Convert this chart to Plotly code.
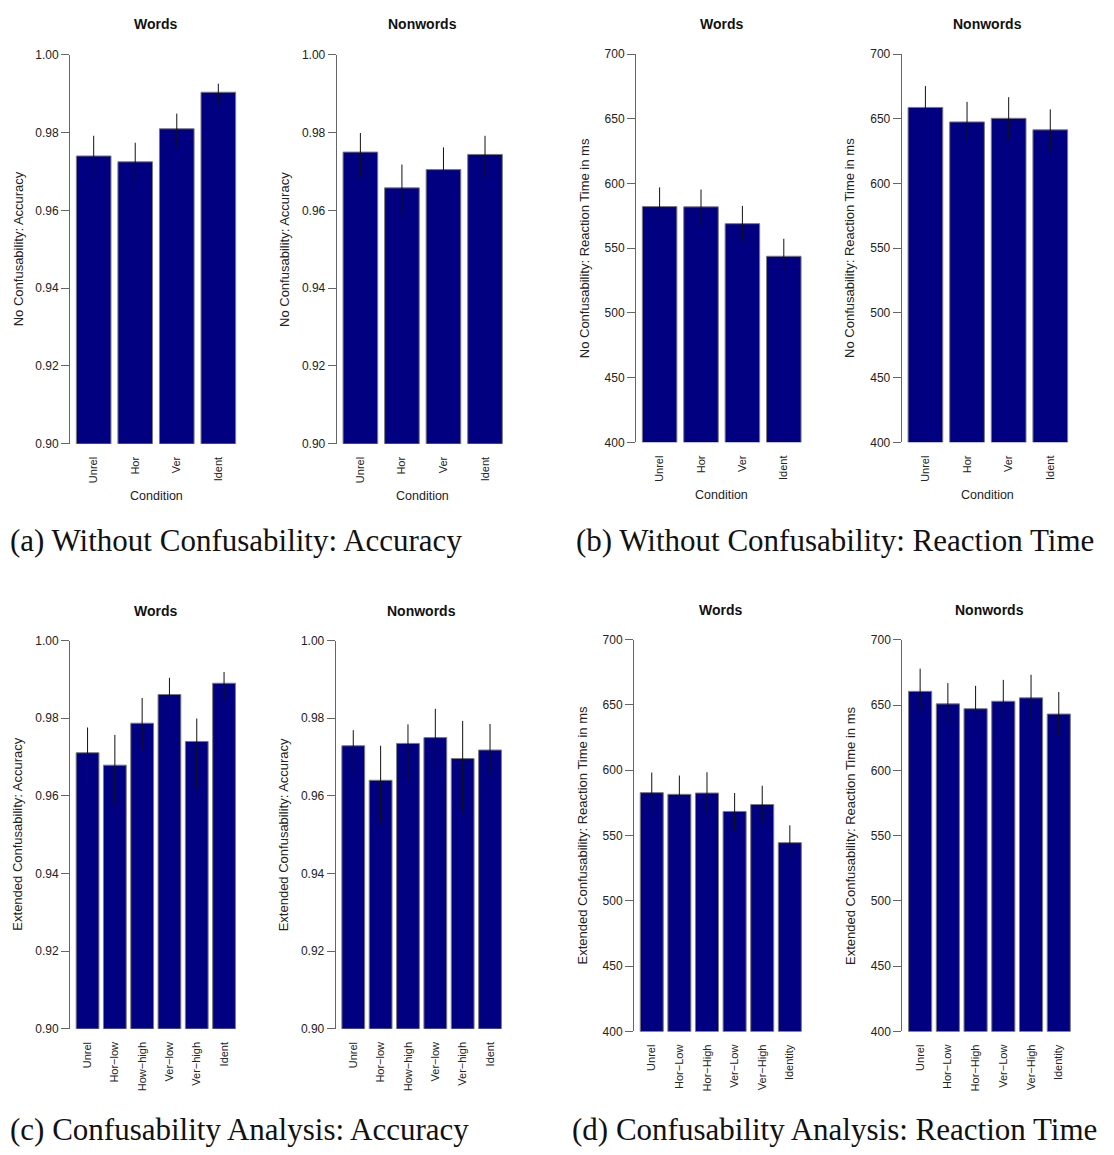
import plotly.graph_objects as go

# ---------------- data ----------------
cond4 = ["Unrel", "Hor", "Ver", "Ident"]
cond6_acc = ["Unrel", "Hor−low", "How−high", "Ver−low", "Ver−high", "Ident"]
cond6_rt = ["Unrel", "Hor−Low", "Hor−High", "Ver−Low", "Ver−High", "Identity"]

a_words_mean = [0.9740, 0.9725, 0.9810, 0.9904]
a_words_hi = [0.9792, 0.9774, 0.9849, 0.9926]
a_words_lo = [0.9680, 0.9662, 0.9761, 0.9875]

a_non_mean = [0.9750, 0.9658, 0.9705, 0.9744]
a_non_hi = [0.9799, 0.9718, 0.9762, 0.9792]
a_non_lo = [0.9685, 0.9584, 0.9633, 0.9684]

b_words_mean = [582.2, 582.0, 569.0, 543.8]
b_words_hi = [597.0, 595.4, 582.7, 557.3]
b_words_lo = [567.9, 567.7, 555.7, 531.3]

b_non_mean = [658.8, 647.6, 650.4, 641.5]
b_non_hi = [675.3, 663.1, 666.7, 657.3]
b_non_lo = [642.0, 632.1, 634.1, 625.2]

c_words_mean = [0.9711, 0.9679, 0.9787, 0.9861, 0.9740, 0.9890]
c_words_hi = [0.9776, 0.9757, 0.9852, 0.9904, 0.9799, 0.9919]
c_words_lo = [0.9628, 0.9577, 0.9717, 0.9796, 0.9617, 0.9846]

c_non_mean = [0.9729, 0.9640, 0.9735, 0.9750, 0.9696, 0.9718]
c_non_hi = [0.9769, 0.9729, 0.9784, 0.9824, 0.9793, 0.9785]
c_non_lo = [0.9647, 0.9527, 0.9638, 0.9668, 0.9557, 0.9653]

d_words_mean = [582.8, 581.5, 582.5, 568.4, 573.7, 544.5]
d_words_hi = [598.2, 595.9, 598.4, 582.5, 588.1, 557.8]
d_words_lo = [567.2, 566.9, 566.7, 553.8, 558.6, 531.1]

d_non_mean = [660.6, 651.0, 647.3, 653.0, 655.6, 643.2]
d_non_hi = [678.0, 666.9, 664.8, 669.4, 673.3, 660.1]
d_non_lo = [644.5, 635.4, 629.9, 636.7, 638.7, 626.6]

acc_ticks = [0.90, 0.92, 0.94, 0.96, 0.98, 1.00]
rt_ticks = [400, 450, 500, 550, 600, 650, 700]

titles = ["Words", "Nonwords"] * 4
ylab_a = "No Confusability: Accuracy"
ylab_b = "No Confusability: Reaction Time in ms"
ylab_c = "Extended Confusability: Accuracy"
ylab_d = "Extended Confusability: Reaction Time in ms"
xlab = "Condition"
captions = [
    "(a) Without Confusability: Accuracy",
    "(b) Without Confusability: Reaction Time",
    "(c) Confusability Analysis: Accuracy",
    "(d) Confusability Analysis: Reaction Time",
]

# ---------------- layout (pixel boxes) ----------------
W, H = 1114, 1155
SANS = "Liberation Sans, Arial, Helvetica, sans-serif"
SERIF = "Liberation Serif, Times New Roman, serif"
NAVY = "#000080"

panels = [
    (cond4, a_words_mean, a_words_hi, a_words_lo, ylab_a, "acc", (70, 242, 48.5, 442), True),
    (cond4, a_non_mean, a_non_hi, a_non_lo, ylab_a, "acc", (336.7, 508.7, 48.5, 442), True),
    (cond4, b_words_mean, b_words_hi, b_words_lo, ylab_b, "rt", (636, 807.4, 47.7, 440.7), True),
    (cond4, b_non_mean, b_non_hi, b_non_lo, ylab_b, "rt", (901.7, 1074, 47.7, 440.7), True),
    (cond6_acc, c_words_mean, c_words_hi, c_words_lo, ylab_c, "acc", (70, 241.6, 641.3, 1034.3), False),
    (cond6_acc, c_non_mean, c_non_hi, c_non_lo, ylab_c, "acc", (335.7, 507.6, 641.3, 1034.3), False),
    (cond6_rt, d_words_mean, d_words_hi, d_words_lo, ylab_d, "rt", (634, 807.6, 640.3, 1037), False),
    (cond6_rt, d_non_mean, d_non_hi, d_non_lo, ylab_d, "rt", (902.3, 1076.6, 640.7, 1037), False),
]

title_y = [17, 17, 17, 17, 611, 611, 610, 610]

fig = go.Figure()
annotations = []
layout = {}

for i, (cats, mean, hi, lo, ylab, kind, box, has_xlab) in enumerate(panels):
    k = "" if i == 0 else str(i + 1)
    x0, x1, yt, yb = box
    fig.add_trace(go.Bar(
        x=cats, y=mean,
        xaxis="x" + k, yaxis="y" + k,
        marker=dict(color=NAVY, line=dict(color="#7a7a7a", width=1)),
        error_y=dict(type="data", symmetric=False,
                     array=[h - m for h, m in zip(hi, mean)],
                     arrayminus=[m - l for m, l in zip(mean, lo)],
                     thickness=1, width=0, color="#111111"),
        showlegend=False,
        hoverinfo="x+y",
    ))
    n = len(cats)
    pad = 0.57 if n == 4 else 0.643
    layout["xaxis" + k] = dict(
        domain=[x0 / W, x1 / W], anchor="y" + k,
        type="category", range=[-pad, n - 1 + pad],
        showline=False, showgrid=False, zeroline=False, ticks="",
        tickangle=-90, ticklabelstandoff=10,
        tickfont=dict(family=SANS, size=11, color="#222222"),
        fixedrange=True,
    )
    if kind == "acc":
        yr, tv, fmt = [0.90, 1.00], acc_ticks, ".2f"
    else:
        yr, tv, fmt = [400, 700], rt_ticks, "d"
    layout["yaxis" + k] = dict(
        domain=[1 - yb / H, 1 - yt / H], anchor="x" + k,
        range=yr, tickvals=tv, tickformat=fmt,
        showline=True, linecolor="#666666", linewidth=1,
        ticks="outside", ticklen=8, tickcolor="#666666", tickwidth=1,
        showgrid=False, zeroline=False,
        tickfont=dict(family=SANS, size=12, color="#222222"),
        fixedrange=True,
    )
    cx = (x0 + x1) / 2 / W
    annotations.append(dict(
        text="<b>%s</b>" % titles[i], x=cx, y=1 - title_y[i] / H,
        xref="paper", yref="paper", xanchor="center", yanchor="middle",
        showarrow=False, font=dict(family=SANS, size=14, color="#111111"),
    ))
    annotations.append(dict(
        text=ylab, x=(x0 - 52) / W, y=1 - (yt + yb) / 2 / H,
        xref="paper", yref="paper", xanchor="center", yanchor="middle",
        textangle=-90, showarrow=False,
        font=dict(family=SANS, size=13, color="#222222"),
    ))
    if has_xlab:
        annotations.append(dict(
            text=xlab, x=cx, y=1 - (yb + 53) / H,
            xref="paper", yref="paper", xanchor="center", yanchor="middle",
            showarrow=False, font=dict(family=SANS, size=12.5, color="#222222"),
        ))

cap_pos = [(8, 540), (574, 540), (8, 1136), (570, 1136)]
for cap, (cx, cy) in zip(captions, cap_pos):
    annotations.append(dict(
        text=cap, x=cx / W, y=1 - cy / H, xref="paper", yref="paper",
        xanchor="left", yanchor="middle", showarrow=False,
        font=dict(family=SERIF, size=31, color="#111111"),
    ))

fig.update_layout(
    width=W, height=H,
    margin=dict(l=0, r=0, t=0, b=0),
    paper_bgcolor="white", plot_bgcolor="white",
    bargap=1 / 6,
    annotations=annotations,
    **layout,
)

fig.write_html(
    "out.html",
    config={"displayModeBar": False},
    post_script="document.body.style.margin='0';document.body.style.overflow='hidden';",
)
